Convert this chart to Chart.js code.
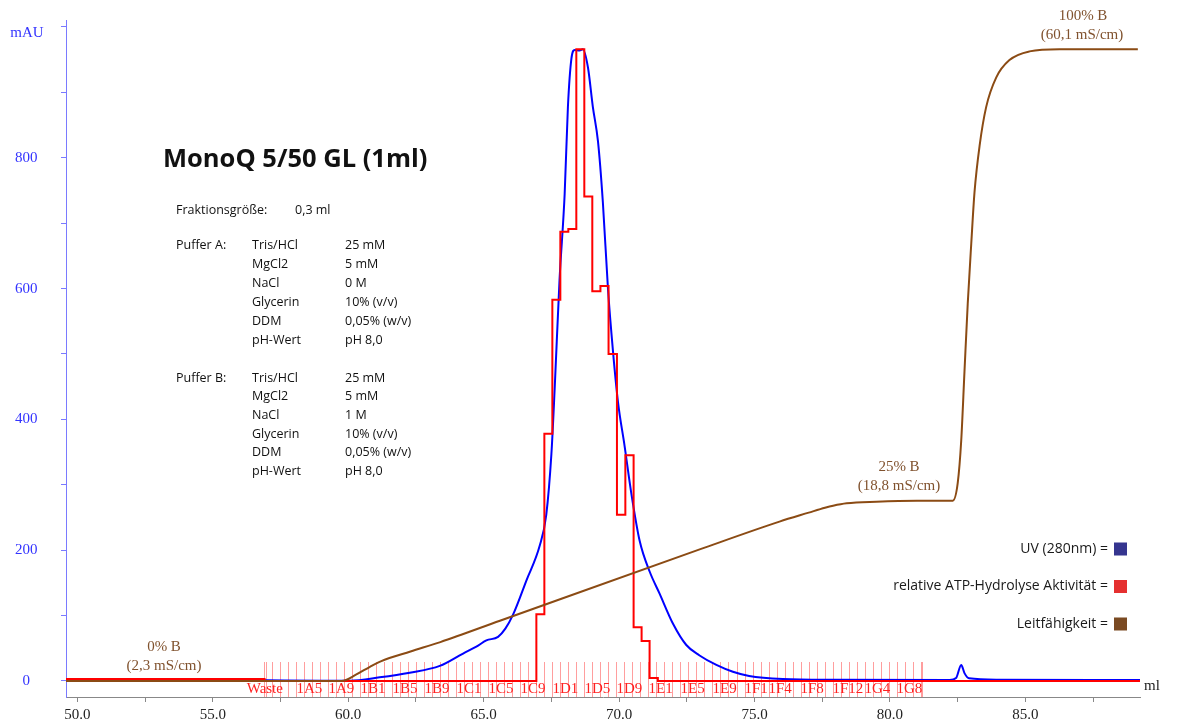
<!DOCTYPE html>
<html lang="de">
<head>
<meta charset="UTF-8">
<title>MonoQ 5/50 GL (1ml)</title>
<script src="https://cdn.jsdelivr.net/npm/chart.js@4.4.1/dist/chart.umd.min.js"></script>
<style>
  body { margin: 0; background: #fff; }
  #wrap { width: 1187px; height: 722px; }
</style>
</head>
<body>
<div id="wrap"><canvas id="chromCanvas" width="1187" height="722"></canvas></div>
<script>
// UV 280 nm trace (ml / mAU)
const UV_ML = [49.58, 55.0, 57.0, 59.0, 60.06, 61.16, 62.27, 63.38, 64.24, 64.73, 65.10, 65.53, 65.8, 66.08, 66.58,
  67.07, 67.31, 67.50, 67.62, 67.80, 67.99, 68.11, 68.24, 68.36, 68.54, 68.66, 68.85, 69.03, 69.22, 69.40,
  69.59, 69.77, 69.96, 70.20, 70.45, 70.76, 71.13, 71.49, 71.99, 72.48, 72.97, 73.59, 74.2, 74.8, 76.04,
  77.9, 82.2, 82.44, 82.63, 82.75, 82.92, 84.0, 89.23];
const UV_MAU = [2, 1.5, 1, 0.5, 0.5, 5.6, 12.7, 23, 42, 52.5, 62, 67.5, 80, 101, 154,
  207, 254, 347, 446, 613, 745, 878, 952, 965, 964, 966, 938, 878, 825, 732,
  599, 506, 426, 360, 287, 214, 167, 134, 87.5, 55, 39, 24.5, 14, 7.6, 3,
  1.8, 1.5, 4.5, 24.5, 12, 4, 2, 1.5];

// relative ATP hydrolysis activity per fraction (left edge in ml)
const ACT_ML = [49.58, 56.91, 66.945, 67.24, 67.535, 67.83, 68.125, 68.42, 68.715, 69.01, 69.31, 69.61,
  69.92, 70.23, 70.535, 70.83, 71.125, 71.43, 89.23];
const ACT_VAL = [3, 0, 102, 378, 583, 687, 691, 966, 741, 596, 604, 500, 254, 345, 82, 61, 4.5, 0, 0];

// conductivity (ml / mS/cm)
const COND_ML = [49.58, 59.75, 60.3, 60.8, 61.2, 62.3, 63.4, 65.6, 73.0, 75.92, 77.0, 77.6, 77.9, 78.4, 79.5,
  81.0, 82.32, 82.5, 82.63, 82.75, 82.87, 83.0, 83.12, 83.31, 83.55, 83.92, 84.41, 85.15, 86.26, 89.15];
const COND_MS = [2.3, 2.3, 2.9, 3.6, 4.1, 5.0, 5.86, 7.81, 14.36, 16.88, 17.7, 18.15, 18.34, 18.56, 18.7,
  18.78, 18.8, 20.4, 24.3, 30.6, 36.8, 42.3, 47.0, 51.3, 54.8, 57.5, 59.1, 59.9, 60.1, 60.1];

// fractions
const FRACTION_START_ML = 56.905;
const FRACTION_SIZE_ML = 0.2954;
const FRACTION_COUNT = 83;
const EXTRA_MARKS_ML = [56.97, 81.2];
const FRACTION_LABELS = ['Waste', '1A5', '1A9', '1B1', '1B5', '1B9', '1C1', '1C5', '1C9', '1D1', '1D5',
  '1D9', '1E1', '1E5', '1E9', '1F1', '1F4', '1F8', '1F12', '1G4', '1G8'];
const FRACTION_LABEL_ML = [56.25, 58.087, 59.268, 60.45, 61.631, 62.813, 63.995, 65.176, 66.358, 67.539, 68.721,
  69.903, 71.084, 72.266, 73.447, 74.629, 75.515, 76.697, 77.878, 79.06, 80.242];

// axes
const X_TICKS = [50, 52.5, 55, 57.5, 60, 62.5, 65, 67.5, 70, 72.5, 75, 77.5, 80, 82.5, 85, 87.5];
const Y_TICKS = [0, 100, 200, 300, 400, 500, 600, 700, 800, 900, 1000];
const Y_LABELS = ['0', '', '200', '', '400', '', '600', '', '800', '', ''];

const toPts = (xs, ys) => xs.map((v, i) => ({x: v, y: ys[i]}));

const serif = 'Liberation Serif';
const sans = 'Open Sans';
const brownText = '#80522e';

// keep the plot area where the original chromatogram has it
const fixBox = size => s => {
  if (s.isHorizontal()) s.height = size; else s.width = size;
  s.paddingTop = 0; s.paddingBottom = 0; s.paddingLeft = 0; s.paddingRight = 0;
};

const overlay = {
  id: 'overlay',
  beforeDatasetsDraw(chart) {
    const {ctx, chartArea, scales: {x}} = chart;
    ctx.save();
    ctx.strokeStyle = 'rgba(255,40,40,0.45)';
    ctx.lineWidth = 1;
    let marks = [];
    for (let k = 0; k < FRACTION_COUNT; k++) marks.push(FRACTION_START_ML + k * FRACTION_SIZE_ML);
    marks = marks.concat(EXTRA_MARKS_ML);
    marks.forEach(v => {
      const px = Math.round(x.getPixelForValue(v)) + 0.5;
      ctx.beginPath();
      ctx.moveTo(px, chartArea.bottom - 35);
      ctx.lineTo(px, chartArea.bottom);
      ctx.stroke();
    });
    ctx.fillStyle = '#ff2020';
    ctx.font = '15px "' + serif + '"';
    ctx.textAlign = 'left';
    ctx.textBaseline = 'middle';
    FRACTION_LABELS.forEach((t, i) => {
      ctx.fillText(t, x.getPixelForValue(FRACTION_LABEL_ML[i]), chartArea.bottom - 8);
    });
    ctx.restore();
  },
  afterDraw(chart) {
    const {ctx, chartArea} = chart;
    ctx.save();
    ctx.textBaseline = 'middle';

    // axis captions
    ctx.font = '15px "' + serif + '"';
    ctx.fillStyle = '#3333ff';
    ctx.textAlign = 'center';
    ctx.fillText('mAU', 27, 33);
    ctx.fillStyle = '#222';
    ctx.textAlign = 'left';
    ctx.fillText('ml', chartArea.right + 4, 686);

    // gradient annotations
    ctx.font = '15px "' + serif + '"';
    ctx.fillStyle = brownText;
    ctx.textAlign = 'center';
    ctx.fillText('0% B', 164, 647);
    ctx.fillText('(2,3 mS/cm)', 164, 666);
    ctx.fillText('25% B', 899, 467);
    ctx.fillText('(18,8 mS/cm)', 899, 486);
    ctx.fillText('100% B', 1083, 16);
    ctx.fillText('(60,1 mS/cm)', 1082, 35);

    // title and buffer table
    ctx.fillStyle = '#111';
    ctx.textAlign = 'left';
    ctx.font = 'bold 25.5px "' + sans + '"';
    ctx.fillText('MonoQ 5/50 GL (1ml)', 163, 160);
    ctx.font = '12.5px "' + sans + '"';
    ctx.fillText('Fraktionsgröße:', 176, 210);
    ctx.fillText('0,3 ml', 295, 210);
    const rows = [['Tris/HCl', '25 mM', '25 mM'], ['MgCl2', '5 mM', '5 mM'], ['NaCl', '0 M', '1 M'],
      ['Glycerin', '10% (v/v)', '10% (v/v)'], ['DDM', '0,05% (w/v)', '0,05% (w/v)'], ['pH-Wert', 'pH 8,0', 'pH 8,0']];
    ctx.fillText('Puffer A:', 176, 245);
    ctx.fillText('Puffer B:', 176, 378);
    rows.forEach((r, i) => {
      ctx.fillText(r[0], 252, 245 + i * 19);
      ctx.fillText(r[1], 345, 245 + i * 19);
      ctx.fillText(r[0], 252, 378 + i * 18.7);
      ctx.fillText(r[2], 345, 378 + i * 18.7);
    });

    // legend
    const legend = [['UV (280nm) =', '#35358f'], ['relative ATP-Hydrolyse Aktivität =', '#e53030'], ['Leitfähigkeit =', '#7a4a22']];
    ctx.font = '14px "' + sans + '"';
    ctx.textAlign = 'right';
    legend.forEach((l, i) => {
      const cy = 549 + i * 37.5;
      ctx.fillStyle = '#1a1a1a';
      ctx.fillText(l[0], 1108, cy);
      ctx.fillStyle = l[1];
      ctx.fillRect(1114, cy - 6.5, 13, 13);
    });
    ctx.restore();
  }
};

const chromChart = new Chart(document.getElementById('chromCanvas'), {
  type: 'line',
  data: {
    datasets: [
      {
        label: 'Leitfähigkeit',
        data: toPts(COND_ML, COND_MS),
        yAxisID: 'y2',
        borderColor: '#8b4b14',
        borderWidth: 2,
        pointRadius: 0,
        cubicInterpolationMode: 'monotone'
      },
      {
        label: 'relative ATP-Hydrolyse Aktivität',
        data: toPts(ACT_ML, ACT_VAL),
        borderColor: '#ff0000',
        borderWidth: 2,
        pointRadius: 0,
        stepped: true
      },
      {
        label: 'UV (280nm)',
        data: toPts(UV_ML, UV_MAU),
        borderColor: '#0000ff',
        borderWidth: 2,
        pointRadius: 0,
        cubicInterpolationMode: 'monotone'
      }
    ]
  },
  options: {
    responsive: false,
    animation: false,
    events: [],
    layout: { padding: { left: 0, right: 47, top: 20, bottom: 0 } },
    plugins: { legend: { display: false }, tooltip: { enabled: false } },
    scales: {
      x: {
        type: 'linear',
        min: 49.58,
        max: 89.23,
        afterBuildTicks: s => { s.ticks = X_TICKS.map(v => ({value: v})); },
        afterFit: fixBox(25),
        ticks: {
          autoSkip: false,
          maxRotation: 0,
          padding: 4,
          color: '#222',
          font: { family: serif, size: 15 },
          callback: v => (v % 5 === 0 ? v.toFixed(1) : '')
        },
        grid: { drawOnChartArea: false, drawTicks: true, tickLength: 5, color: '#888' },
        border: { color: '#888', width: 1 }
      },
      y: {
        min: -24.5,
        max: 1010.7,
        afterBuildTicks: s => { s.ticks = Y_TICKS.map(v => ({value: v})); },
        afterFit: fixBox(66),
        ticks: {
          autoSkip: false,
          crossAlign: 'center',
          padding: 23.5,
          color: '#3333ff',
          font: { family: serif, size: 15 },
          callback: (v, i) => Y_LABELS[i]
        },
        grid: { drawOnChartArea: false, drawTicks: true, tickLength: 5, color: '#7a7aff' },
        border: { color: '#7a7aff', width: 1 }
      },
      y2: {
        display: false,
        min: 0.836,
        max: 62.77
      }
    }
  },
  plugins: [overlay]
});
</script>
</body>
</html>
